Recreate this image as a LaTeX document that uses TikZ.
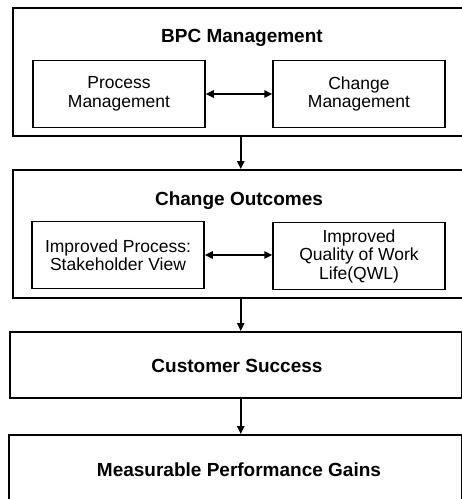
\documentclass[tikz,border=0pt]{standalone}
\usepackage{fontspec}
\setmainfont{Liberation Sans}
\usetikzlibrary{arrows.meta}
\begin{document}
\begin{tikzpicture}[x=1pt,y=-1pt,
  frame/.style={draw, line width=1.5pt, rectangle, inner sep=0pt, anchor=north west},
  inbox/.style={draw, line width=1.5pt, rectangle, inner sep=0pt,
    minimum width=172pt, minimum height=67pt, align=center,
    font=\fontsize{17.5}{18.5}\selectfont},
  heading/.style={font=\bfseries\fontsize{19}{22}\selectfont},
  flow/.style={line width=1.5pt, -{Triangle[length=8pt,width=7.5pt]}},
  link/.style={line width=1.5pt, {Triangle[length=8pt,width=7.5pt]}-{Triangle[length=8pt,width=7.5pt]}}]
\useasboundingbox[fill=white] (0,0) rectangle (462,499);
\clip (0,0) rectangle (462,499);

% outer frames
\node[frame, minimum width=456pt, minimum height=128pt] (b1) at (12,7) {};
\node[frame, minimum width=456pt, minimum height=128pt] (b2) at (12,169) {};
\node[frame, minimum width=452pt, minimum height=66pt] (b3) at (9,331) {};
\node[frame, minimum width=453pt, minimum height=90pt] (b4) at (8,434) {};

% headings
\node[heading] (t1) at (242,38) {BPC Management};
\node[heading] (t2) at (239,201) {Change Outcomes};
\node[heading] (t3) at (237,366) {Customer Success};
\node[heading] (t4) at (239,470) {Measurable Performance Gains};

% inner boxes
\node[inbox] (pm) at (119,94) {Process\\Management};
\node[inbox] (cm) at (359,94) {Change\\Management};
\node[inbox] (ip) at (118,255) {Improved Process:\\Stakeholder View};
\node[inbox] (qw) at (359,256) {Improved\\Quality of Work\\Life(QWL)};

% connectors
\draw[link] (pm.east) -- (cm.west);
\draw[link] (ip.east) -- (ip.east -| qw.west);
\draw[flow] (b1.south) -- (b2.north);
\draw[flow] (b2.south) -- (b2.south |- b3.north);
\draw[flow] (b3.south -| b2.south) -- (b2.south |- b4.north);
\end{tikzpicture}
\end{document}
